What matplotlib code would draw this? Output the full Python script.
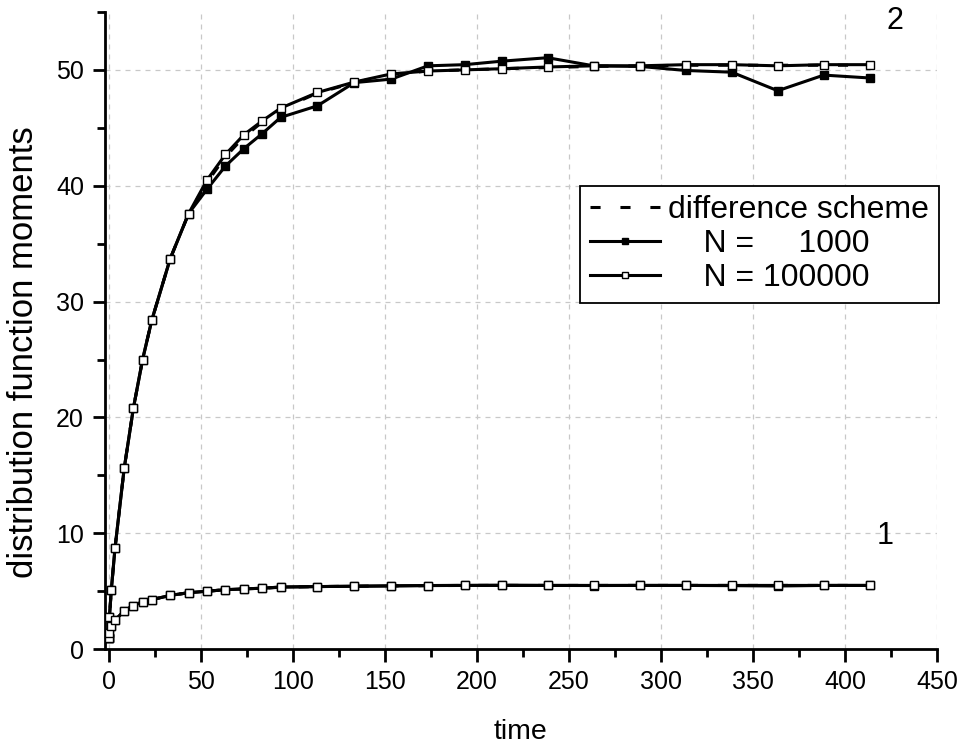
import numpy as np
import matplotlib
matplotlib.use("Agg")
from matplotlib import pyplot as plt
from matplotlib.ticker import MultipleLocator

plt.rcParams['font.family'] = ['Liberation Sans', 'DejaVu Sans']

# sampling times (same for all curves)
time = [0, 0.5, 1.5, 3.5, 8.5, 13.5, 18.5, 23.5, 33.5, 43.5, 53.5, 63.5,
        73.5, 83.5, 93.5, 113.5, 133.5, 153.5, 173.5, 193.5, 213.5, 238.5,
        263.5, 288.5, 313.5, 338.5, 363.5, 388.5, 413.5]

# second moment (curve 2)
m2_scheme = [1.0, 2.8, 5.1, 8.7, 15.6, 20.8, 25.0, 28.4, 33.7, 37.6, 40.3,
             42.5, 44.2, 45.5, 46.6, 48.0, 48.9, 49.6, 49.9, 50.0, 50.1, 50.2,
             50.3, 50.35, 50.4, 50.4, 50.4, 50.4, 50.4]
m2_n1000 = [1.0, 2.8, 5.1, 8.7, 15.6, 20.8, 25.0, 28.4, 33.7, 37.6, 39.7,
            41.7, 43.2, 44.5, 45.9, 46.9, 48.9, 49.2, 50.35, 50.45, 50.75,
            51.05, 50.35, 50.3, 49.95, 49.8, 48.2, 49.55, 49.3]
m2_n100000 = [1.0, 2.8, 5.1, 8.7, 15.6, 20.8, 25.0, 28.4, 33.7, 37.6, 40.5,
              42.7, 44.4, 45.6, 46.7, 48.05, 48.95, 49.65, 49.9, 50.0, 50.1,
              50.25, 50.35, 50.35, 50.45, 50.45, 50.35, 50.45, 50.45]

# first moment (curve 1)
m1_scheme = [1.0, 1.4, 2.0, 2.5, 3.3, 3.75, 4.1, 4.27, 4.64, 4.87, 5.0, 5.13,
             5.2, 5.26, 5.34, 5.4, 5.43, 5.46, 5.48, 5.5, 5.5, 5.5, 5.5, 5.5,
             5.5, 5.5, 5.5, 5.5, 5.5]
m1_n1000 = [1.0, 1.4, 2.0, 2.5, 3.3, 3.75, 4.1, 4.27, 4.64, 4.87, 5.0, 5.13,
            5.2, 5.26, 5.36, 5.4, 5.43, 5.46, 5.49, 5.5, 5.52, 5.5, 5.49, 5.5,
            5.5, 5.48, 5.45, 5.5, 5.5]
m1_n100000 = [1.0, 1.4, 2.0, 2.5, 3.3, 3.75, 4.1, 4.27, 4.64, 4.87, 5.0,
              5.13, 5.2, 5.26, 5.36, 5.4, 5.43, 5.46, 5.49, 5.5, 5.5, 5.5,
              5.5, 5.5, 5.5, 5.5, 5.5, 5.5, 5.5]

labels = ['difference scheme', '    N =     1000', '    N = 100000']

fig = plt.figure(figsize=(9.62, 7.47), dpi=100)
ax = fig.add_axes([0.109, 0.131, 0.865, 0.853])

lw = 2.2
ms = 6
dash = (0, (3.3, 6.5))
for sch, n1, n2 in [(m2_scheme, m2_n1000, m2_n100000),
                    (m1_scheme, m1_n1000, m1_n100000)]:
    ax.plot(time, sch, color='k', lw=lw, ls=dash, zorder=2)
    ax.plot(time, n1, color='k', lw=lw, marker='s', ms=ms,
            mfc='k', mec='k', mew=1, zorder=3)
    ax.plot(time, n2, color='k', lw=lw, marker='s', ms=ms,
            mfc='white', mec='k', mew=1, zorder=4)

# legend proxies
h1, = ax.plot([], [], color='k', lw=lw, ls=dash)
h2, = ax.plot([], [], color='k', lw=lw, marker='s', ms=5, mfc='k', mec='k')
h3, = ax.plot([], [], color='k', lw=lw, marker='s', ms=5, mfc='white', mec='k')
leg = ax.legend([h1, h2, h3], labels,
                loc='upper right', bbox_to_anchor=(1.002, 0.727),
                borderaxespad=0, fontsize=23, handlelength=2.2,
                handletextpad=0.25, labelspacing=0.12, borderpad=0.3,
                fancybox=False, framealpha=1, edgecolor='k')
leg.get_frame().set_linewidth(1.3)

ax.text(427, 54.2, '2', fontsize=22, ha='center', va='center')
ax.text(422, 9.8, '1', fontsize=22, ha='center', va='center')

ax.set_xlim(-2, 450)
ax.set_ylim(0, 55)
ax.xaxis.set_major_locator(MultipleLocator(50))
ax.xaxis.set_minor_locator(MultipleLocator(25))
ax.yaxis.set_major_locator(MultipleLocator(10))
ax.yaxis.set_minor_locator(MultipleLocator(5))

ax.grid(True, which='major', color='#c8c8c8', ls=(0, (4, 4)), lw=0.9)
ax.set_axisbelow(True)
for side in ['top', 'right']:
    ax.spines[side].set_visible(False)
for side in ['left', 'bottom']:
    ax.spines[side].set_linewidth(2)

ax.tick_params(which='major', direction='out', length=9, width=2,
               labelsize=18, pad=6)
ax.tick_params(which='minor', direction='out', length=6, width=2)

ax.set_xlabel('time', fontsize=20.5, labelpad=18)
ax.set_ylabel('distribution function moments', fontsize=25)
ax.yaxis.set_label_coords(-0.078, 0.466)

fig.savefig('out.png', dpi=100)
